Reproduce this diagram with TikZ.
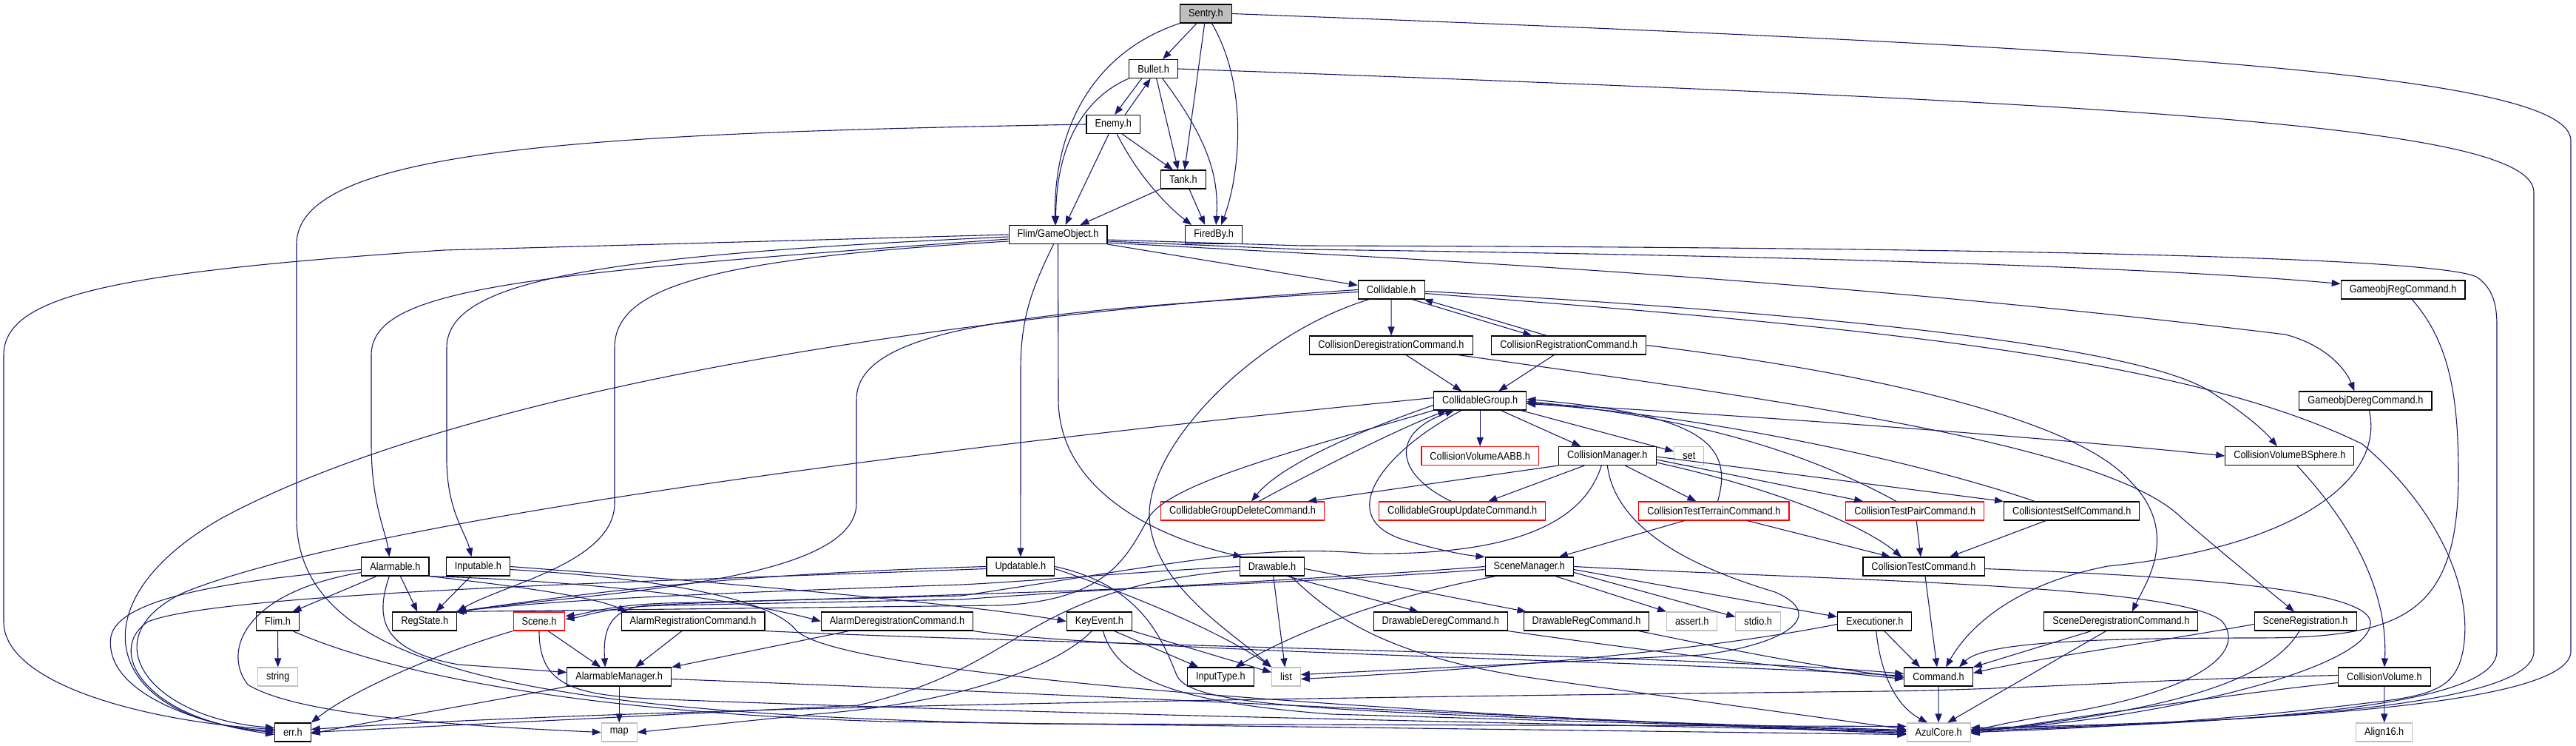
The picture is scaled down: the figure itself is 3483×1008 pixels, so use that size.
\documentclass[tikz,border=0pt]{standalone}
\usepackage{fontspec}
\newfontfamily\dotfont{Liberation Sans}[FakeStretch=0.88]
\usetikzlibrary{arrows.meta}
\definecolor{edgeblue}{RGB}{25,25,112}
\definecolor{sysgray}{RGB}{191,191,191}

\begin{document}
\begin{tikzpicture}[x=1pt, y=-1pt,
    hdr/.style={draw=black, fill=white, line width=1.1pt, minimum height=25pt,
      inner xsep=11.5pt, inner ysep=0pt, font={\dotfont\fontsize{14.5}{17}\selectfont}},
    root/.style={hdr, fill=sysgray},
    trunc/.style={hdr, draw=red},
    sys/.style={hdr, draw=sysgray},
    dep/.style={draw=edgeblue, line width=1.1pt, -{Triangle[length=12pt,width=9pt]}}]
  \useasboundingbox (0,0) rectangle (3483,1008);
  % Headers, row by row
  \node[root] (sentry) at (1630.5,18.5) {Sentry.h};
  \node[hdr] (bullet) at (1559.7,93) {Bullet.h};
  \node[hdr] (enemy) at (1505.2,168) {Enemy.h};
  \node[hdr] (tank) at (1599.9,242.5) {Tank.h};
  \node[hdr] (gameobj) at (1430.5,317) {Flim/GameObject.h};
  \node[hdr] (firedby) at (1641.2,317) {FiredBy.h};
  \node[hdr] (collidable) at (1881.2,391.5) {Collidable.h};
  \node[hdr] (gorcmd) at (3249.1,391.5) {GameobjRegCommand.h};
  \node[hdr] (colldereg) at (1881,466.5) {CollisionDeregistrationCommand.h};
  \node[hdr] (collreg) at (2121.3,466.5) {CollisionRegistrationCommand.h};
  \node[hdr] (cgroup) at (2001.2,541.5) {CollidableGroup.h};
  \node[hdr] (godcmd) at (3198.4,541.5) {GameobjDeregCommand.h};
  \node[trunc] (cvaabb) at (2001.2,616) {CollisionVolumeAABB.h};
  \node[hdr] (cmgr) at (2173.3,616) {CollisionManager.h};
  \node[sys] (seth) at (2283.8,616) {set};
  \node[hdr] (cvbsphere) at (3095.8,616) {CollisionVolumeBSphere.h};
  \node[trunc] (cgdelete) at (1680,690.5) {CollidableGroupDeleteCommand.h};
  \node[trunc] (cgupdate) at (1977.2,690.5) {CollidableGroupUpdateCommand.h};
  \node[trunc] (ctterrain) at (2317.4,690.5) {CollisionTestTerrainCommand.h};
  \node[trunc] (ctpair) at (2589.2,690.5) {CollisionTestPairCommand.h};
  \node[hdr] (ctself) at (2801.2,690.5) {CollisiontestSelfCommand.h};
  \node[hdr] (alarmable) at (534.4,765.5) {Alarmable.h};
  \node[hdr] (inputable) at (646.4,765.5) {Inputable.h};
  \node[hdr] (updatable) at (1379.9,765.5) {Updatable.h};
  \node[hdr] (drawable) at (1720,765.5) {Drawable.h};
  \node[hdr] (scenemgr) at (2067.8,765.5) {SceneManager.h};
  \node[hdr] (ctcmd) at (2601,765.5) {CollisionTestCommand.h};
  \node[hdr] (flim) at (375.6,839.5) {Flim.h};
  \node[hdr] (regstate) at (574.3,839.5) {RegState.h};
  \node[trunc] (scene) at (729,839.5) {Scene.h};
  \node[hdr] (alarmreg) at (937,839.5) {AlarmRegistrationCommand.h};
  \node[hdr] (alarmdereg) at (1213,839.5) {AlarmDeregistrationCommand.h};
  \node[hdr] (keyevent) at (1486.4,839.5) {KeyEvent.h};
  \node[hdr] (ddereg) at (1947.8,839.5) {DrawableDeregCommand.h};
  \node[hdr] (dreg) at (2145,839.5) {DrawableRegCommand.h};
  \node[sys] (asserth) at (2287.7,839.5) {assert.h};
  \node[sys] (stdioh) at (2377.2,839.5) {stdio.h};
  \node[hdr] (executioner) at (2534.7,839.5) {Executioner.h};
  \node[hdr] (scenedereg) at (2867.8,839.5) {SceneDeregistrationCommand.h};
  \node[hdr] (scenereg) at (3117.1,839.5) {SceneRegistration.h};
  \node[sys] (stringh) at (375.8,914.5) {string};
  \node[hdr] (alarmmgr) at (837.2,914.5) {AlarmableManager.h};
  \node[hdr] (inputtype) at (1650.4,914.5) {InputType.h};
  \node[sys] (listh) at (1739,914.5) {list};
  \node[hdr] (command) at (2621,914.5) {Command.h};
  \node[hdr] (cvolume) at (3223.9,914.5) {CollisionVolume.h};
  \node[hdr] (err) at (395.9,989.5) {err.h};
  \node[sys] (maph) at (837.2,989.5) {map};
  \node[sys] (azul) at (2621.1,989.5) {AzulCore.h};
  \node[sys] (align) at (3223.7,989.5) {Align16.h};

  % Sentry.h
  \draw[dep] (sentry) -- (bullet);
  \draw[dep] (sentry.south west) .. controls (1480,70) and (1425,170) .. ([xshift=-4pt]gameobj.north);
  \draw[dep] (sentry) -- (tank);
  \draw[dep] ([xshift=8pt]sentry.south) .. controls (1690,120) and (1675,240) .. ([xshift=10pt]firedby.north);
  \draw[dep] (sentry.east) .. controls (2900,65) and (3476,100) .. (3476,190) -- (3476,880) .. controls (3476,950) and (3100,975) .. ([yshift=6pt]azul.east);
  % Bullet.h and Enemy.h
  \draw[dep] ([xshift=-16pt]bullet.south) -- ([xshift=2pt]enemy.north);
  \draw[dep] ([xshift=16pt]enemy.north) -- ([xshift=-4pt]bullet.south);
  \draw[dep] (bullet.south west) .. controls (1470,130) and (1428,190) .. ([xshift=-3pt]gameobj.north);
  \draw[dep] ([xshift=4pt]bullet.south) -- ([xshift=-7pt]tank.north);
  \draw[dep] ([xshift=12pt]bullet.south) .. controls (1635,190) and (1648,240) .. ([xshift=3pt]firedby.north);
  \draw[dep] (bullet.east) .. controls (2900,140) and (3426,170) .. (3426,260) -- (3426,880) .. controls (3426,950) and (3100,975) .. ([yshift=4pt]azul.east);
  \draw[dep] ([xshift=12pt]enemy.south) -- ([xshift=-14pt]tank.north);
  \draw[dep] ([xshift=-6pt]enemy.south) -- ([xshift=10pt]gameobj.north);
  \draw[dep] ([xshift=5pt]enemy.south) .. controls (1540,240) and (1580,280) .. ([xshift=-30pt]firedby.north);
  \draw[dep] (enemy.west) .. controls (800,180) and (401,200) .. (401,330) -- (401,700) .. controls (401,900) and (700,965) .. (1400,978) -- ([yshift=8pt]azul.west);
  % Tank.h
  \draw[dep] (tank.south west) -- ([xshift=30pt]gameobj.north);
  \draw[dep] ([xshift=8pt]tank.south) -- ([xshift=-12pt]firedby.north);

  % Flim/GameObject.h
  \draw[dep] (gameobj.west) -- (600,338) .. controls (150,368) and (5,400) .. (5,480) -- (5,840) .. controls (5,925) and (200,975) .. ([yshift=4pt]err.west);
  \draw[dep] ([yshift=-3pt]gameobj.west) .. controls (800,345) and (604,380) .. (604,470) -- (604,620) .. controls (604,690) and (630,720) .. ([xshift=-9pt]inputable.north);
  \draw[dep] ([yshift=-6pt]gameobj.west) .. controls (700,370) and (502,390) .. (502,480) -- (502,600) .. controls (502,680) and (522,720) .. ([xshift=-8pt]alarmable.north);
  \draw[dep] ([yshift=-9pt]gameobj.west) .. controls (950,350) and (831,390) .. (831,470) -- (831,680) .. controls (831,760) and (680,790) .. (regstate.north east);
  \draw[dep] ([xshift=-6pt]gameobj.south) .. controls (1395,390) and (1380,430) .. (1380,500) -- (updatable.north);
  \draw[dep] (gameobj.south) -- (1431,540) .. controls (1431,650) and (1540,720) .. ([xshift=4pt]drawable.north west);
  \draw[dep] (gameobj.south east) -- ([yshift=6pt]collidable.west);
  \draw[dep] ([yshift=-7pt]gameobj.east) -- (1760,332) .. controls (2600,334) and (3300,345) .. (3350,375) .. controls (3370,390) and (3376,410) .. (3376,440) -- (3376,880) .. controls (3376,950) and (3100,975) .. ([yshift=2pt]azul.east);
  \draw[dep] ([yshift=-9pt]gameobj.east) -- (1760,337) .. controls (2400,345) and (2900,360) .. ([yshift=8pt]gorcmd.west);
  \draw[dep] ([yshift=-11pt]gameobj.east) -- (1760,342) .. controls (2500,380) and (2950,435) .. (3090,452) .. controls (3140,465) and (3170,495) .. ([xshift=-15pt]godcmd.north);

  % Collidable.h
  \draw[dep] (collidable) -- (colldereg);
  \draw[dep] ([xshift=28pt]collidable.south) -- ([xshift=-50pt]collreg.north);
  \draw[dep] ([xshift=-30pt]collreg.north) -- ([xshift=44pt]collidable.south);
  \draw[dep] (collidable.west) .. controls (1100,440) and (560,560) .. (300,700) .. controls (90,820) and (150,975) .. ([yshift=2pt]err.west);
  \draw[dep] ([yshift=-3pt]collidable.west) .. controls (1400,420) and (1158,440) .. (1158,540) -- (1158,680) .. controls (1158,790) and (800,800) .. (regstate.north east);
  \draw[dep] ([xshift=-30pt]collidable.south) .. controls (1700,450) and (1550,600) .. (1554,700) .. controls (1560,790) and (1660,850) .. (listh.north west);
  \draw[dep] ([yshift=-2pt]collidable.east) .. controls (2500,425) and (2900,470) .. (2990,530) .. controls (3030,555) and (3060,580) .. ([xshift=-17pt]cvbsphere.north);
  \draw[dep] ([yshift=-5pt]collidable.east) .. controls (2500,440) and (2950,480) .. (3194,600) .. controls (3300,690) and (3345,800) .. (3330,880) .. controls (3320,930) and (3290,940) .. (3200,950) .. controls (3000,975) and (2800,985) .. (azul.east);
  % Collision registration commands
  \draw[dep] ([xshift=20pt]colldereg.south) -- ([xshift=-25pt]cgroup.north);
  \draw[dep] ([xshift=90pt]colldereg.south) .. controls (2400,540) and (2850,600) .. (2950,700) .. controls (3020,760) and (3070,800) .. ([xshift=-15pt]scenereg.north);
  \draw[dep] ([xshift=-20pt]collreg.south) -- ([xshift=25pt]cgroup.north);
  \draw[dep] (collreg.east) .. controls (2500,500) and (2800,560) .. (2880,650) .. controls (2950,720) and (2900,790) .. ([xshift=15pt]scenedereg.north);

  % CollidableGroup.h
  \draw[dep] (cgroup) -- (cvaabb);
  \draw[dep] ([xshift=28pt]cgroup.south) -- ([xshift=-36pt]cmgr.north);
  \draw[dep] ([xshift=55pt]cgroup.south) -- ([yshift=6pt]seth.west);
  \draw[dep] ([yshift=-3pt]cgroup.east) .. controls (2500,570) and (2800,595) .. (cvbsphere.west);
  \draw[dep] ([yshift=4pt]cgroup.west) .. controls (1300,600) and (500,700) .. (250,800) .. controls (120,860) and (200,970) .. ([yshift=6pt]err.west);
  \draw[dep] ([yshift=-6pt]cgroup.west) .. controls (1830,585) and (1730,630) .. ([xshift=12pt]cgdelete.north);
  \draw[dep] ([xshift=22pt]cgdelete.north) .. controls (1780,635) and (1890,580) .. ([xshift=-45pt]cgroup.south);
  \draw[dep] (cgroup.south west) .. controls (1750,610) and (1570,655) .. (1550,705) .. controls (1520,760) and (1490,812) .. (1350,818) -- ([xshift=-3pt]regstate.north east);
  \draw[dep] ([xshift=-25pt]cgroup.south) .. controls (1870,610) and (1800,700) .. (1900,730) .. controls (1940,742) and (1980,750) .. (scenemgr.north west);
  \draw[dep] ([xshift=-15pt]cgupdate.north) .. controls (1885,640) and (1880,585) .. ([xshift=-35pt]cgroup.south);
  \draw[dep] ([xshift=5pt]ctterrain.north) .. controls (2345,600) and (2300,560) .. ([yshift=2pt]cgroup.east);
  \draw[dep] ([xshift=-25pt]ctpair.north) .. controls (2450,615) and (2300,565) .. ([yshift=-1pt]cgroup.east);
  \draw[dep] ([xshift=-50pt]ctself.north) .. controls (2600,625) and (2300,560) .. ([yshift=-4pt]cgroup.east);

  % CollisionManager.h
  \draw[dep] (cmgr.south west) -- ([xshift=88pt]cgdelete.north);
  \draw[dep] ([xshift=-31pt]cmgr.south) -- ([xshift=35pt]cgupdate.north);
  \draw[dep] ([xshift=24pt]cmgr.south) -- ([xshift=-24pt]ctterrain.north);
  \draw[dep] ([yshift=-5pt]cmgr.east) -- ([xshift=-70pt]ctpair.north);
  \draw[dep] ([yshift=-1pt]cmgr.east) -- (ctself.north west);
  \draw[dep] ([yshift=-9pt]cmgr.east) .. controls (2400,660) and (2520,710) .. ([xshift=-30pt]ctcmd.north);
  \draw[dep] (cmgr.south) .. controls (2185,720) and (2300,770) .. (2400,800) .. controls (2470,830) and (2420,870) .. (2300,885) -- ([yshift=3pt]listh.east);
  \draw[dep] ([xshift=-8pt]cmgr.south) .. controls (2140,710) and (2040,750) .. (1850,748) .. controls (1700,735) and (1600,760) .. (1300,805) -- (900,815) .. controls (820,818) and (790,830) .. ([yshift=7pt]scene.east);

  % Collision test commands
  \draw[dep] ([xshift=-40pt]ctterrain.south) -- ([xshift=40pt]scenemgr.north);
  \draw[dep] ([xshift=45pt]ctterrain.south) -- ([xshift=-45pt]ctcmd.north);
  \draw[dep] ([xshift=2pt]ctpair.south) -- ([xshift=-4pt]ctcmd.north);
  \draw[dep] ([xshift=-35pt]ctself.south) -- ([xshift=35pt]ctcmd.north);
  \draw[dep] ([xshift=2pt]ctcmd.south) -- ([xshift=-2pt]command.north);
  \draw[dep] ([yshift=-3pt]ctcmd.east) .. controls (3000,780) and (3200,800) .. (3205,840) .. controls (3210,905) and (2900,975) .. ([yshift=3pt]azul.east);

  % SceneManager.h
  \draw[dep] (scenemgr.west) .. controls (1800,782) and (1500,795) .. (1300,810) -- (900,818) .. controls (820,820) and (790,833) .. ([yshift=3pt]scene.east);
  \draw[dep] ([yshift=-4pt]scenemgr.west) .. controls (1600,800) and (1000,810) .. (880,818) .. controls (825,820) and (815,850) .. ([xshift=-19pt]alarmmgr.north);
  \draw[dep] ([xshift=-45pt]scenemgr.south) .. controls (1880,805) and (1760,850) .. ([xshift=20pt]inputtype.north);
  \draw[dep] ([xshift=35pt]scenemgr.south) -- (asserth.north west);
  \draw[dep] ([yshift=-8pt]scenemgr.east) -- ([yshift=6pt]stdioh.west);
  \draw[dep] ([yshift=-4pt]scenemgr.east) -- ([yshift=6pt]executioner.west);
  \draw[dep] (scenemgr.east) .. controls (2500,785) and (2950,790) .. (3005,840) .. controls (3040,885) and (2960,935) .. (2800,962) .. controls (2700,978) and (2680,985) .. ([yshift=2pt]azul.east);

  % Updatable.h and Drawable.h
  \draw[dep] (updatable.west) .. controls (1000,775) and (800,800) .. (regstate.north east);
  \draw[dep] ([yshift=-3pt]updatable.west) .. controls (900,785) and (300,800) .. (200,840) .. controls (140,880) and (200,975) .. (err.west);
  \draw[dep] ([yshift=-3pt]updatable.east) .. controls (1550,810) and (1660,860) .. (listh.north west);
  \draw[dep] (updatable.east) .. controls (1540,790) and (1570,860) .. (1590,910) .. controls (1605,958) and (1800,962) .. ([yshift=3pt]azul.west);
  \draw[dep] (drawable.west) .. controls (1500,775) and (1400,785) .. (1300,790) .. controls (1000,800) and (750,810) .. (regstate.north east);
  \draw[dep] ([yshift=-5pt]drawable.west) .. controls (1380,795) and (1390,900) .. (1160,953) -- (err.east);
  \draw[dep] ([xshift=20pt]drawable.south) -- ([xshift=-30pt]ddereg.north);
  \draw[dep] ([yshift=-3pt]drawable.east) -- ([xshift=4pt]dreg.north west);
  \draw[dep] (drawable) -- (listh);
  \draw[dep] ([xshift=25pt]drawable.south) .. controls (1800,830) and (1870,890) .. (2100,920) -- ([yshift=4pt]azul.west);

  % Inputable.h and KeyEvent.h
  \draw[dep] ([xshift=-10pt]inputable.south) -- ([xshift=15pt]regstate.north);
  \draw[dep] (inputable.east) .. controls (950,785) and (1300,815) .. (keyevent.west);
  \draw[dep] ([yshift=-4pt]inputable.east) .. controls (950,785) and (1050,820) .. (1075,850) .. controls (1120,910) and (1800,960) .. ([yshift=-2pt]azul.west);
  \draw[dep] ([xshift=20pt]keyevent.south) -- ([xshift=-30pt]inputtype.north);
  \draw[dep] (keyevent.south east) -- ([yshift=6pt]listh.west);
  \draw[dep] ([xshift=-10pt]keyevent.south) .. controls (1430,900) and (1300,950) .. (1100,965) -- (maph.east);
  \draw[dep] ([xshift=5pt]keyevent.south) .. controls (1510,920) and (1600,950) .. (1800,965) -- ([yshift=2pt]azul.west);

  % Alarmable.h and Flim.h
  \draw[dep] ([xshift=-25pt]alarmable.south) -- ([xshift=20pt]flim.north);
  \draw[dep] ([xshift=7pt]alarmable.south) -- ([xshift=-10pt]regstate.north);
  \draw[dep] ([xshift=-8pt]alarmable.south) .. controls (505,840) and (520,880) .. (620,898) -- ([yshift=6pt]alarmmgr.west);
  \draw[dep] (alarmable.south east) .. controls (680,790) and (800,805) .. ([xshift=8pt]alarmreg.north west);
  \draw[dep] ([xshift=-3pt]alarmable.south east) .. controls (800,785) and (1000,810) .. (alarmdereg.west);
  \draw[dep] ([yshift=-4pt]alarmable.west) .. controls (300,785) and (160,810) .. (150,860) .. controls (140,930) and (250,975) .. ([yshift=-3pt]err.west);
  \draw[dep] ([yshift=-8pt]alarmable.west) .. controls (330,800) and (300,880) .. (335,925) .. controls (400,965) and (600,980) .. (maph.west);
  \draw[dep] (flim) -- (stringh);
  \draw[dep] ([xshift=20pt]flim.south) .. controls (480,890) and (700,960) .. (1200,975) -- ([yshift=-3pt]azul.west);

  % Alarm commands, AlarmableManager.h, Scene.h
  \draw[dep] ([xshift=-15pt]alarmreg.south) -- ([xshift=22pt]alarmmgr.north);
  \draw[dep] (alarmreg.south east) .. controls (1400,870) and (2300,885) .. ([yshift=4pt]command.west);
  \draw[dep] ([xshift=-65pt]alarmdereg.south) -- (alarmmgr.north east);
  \draw[dep] (alarmdereg.south east) .. controls (1500,880) and (2300,895) .. ([yshift=1pt]command.west);
  \draw[dep] (alarmmgr) -- (maph);
  \draw[dep] (alarmmgr.south west) .. controls (680,945) and (500,975) .. ([yshift=-2pt]err.east);
  \draw[dep] ([yshift=-3pt]alarmmgr.east) .. controls (1500,940) and (2200,975) .. ([yshift=-1pt]azul.west);
  \draw[dep] ([xshift=12pt]scene.south) -- ([xshift=-25pt]alarmmgr.north);
  \draw[dep] (scene.south west) .. controls (600,880) and (480,930) .. (err.north east);
  \draw[dep] (scene.south) .. controls (729,930) and (780,940) .. (900,945) .. controls (1400,965) and (2200,980) .. ([yshift=1pt]azul.west);

  % Command headers
  \draw[dep] (ddereg.south east) .. controls (2300,890) and (2450,905) .. ([yshift=-3pt]command.west);
  \draw[dep] ([xshift=-15pt]dreg.south east) .. controls (2350,880) and (2450,900) .. ([yshift=-1pt]command.west);
  \draw[dep] ([xshift=13pt]executioner.south) -- ([xshift=-25pt]command.north);
  \draw[dep] ([xshift=2pt]executioner.south) .. controls (2545,930) and (2575,960) .. ([xshift=-15pt]azul.north);
  \draw[dep] ([yshift=-4pt]executioner.west) .. controls (2300,880) and (2000,905) .. ([yshift=-3pt]listh.east);
  \draw[dep] ([xshift=-40pt]scenedereg.south) -- (command.north east);
  \draw[dep] ([xshift=-20pt]scenedereg.south) -- ([xshift=12pt]azul.north);
  \draw[dep] ([yshift=-4pt]scenereg.west) .. controls (2900,870) and (2750,890) .. ([yshift=5pt]command.east);
  \draw[dep] ([xshift=-8pt]scenereg.south) .. controls (3080,900) and (3000,955) .. ([yshift=1pt]azul.east);
  \draw[dep] ([xshift=12pt]gorcmd.south) .. controls (3310,460) and (3324,530) .. (3324,640) .. controls (3324,830) and (3250,862) .. (3050,862) .. controls (2800,862) and (2680,870) .. ([xshift=28pt]command.north);
  \draw[dep] ([xshift=5pt]godcmd.south) .. controls (3225,650) and (3100,740) .. (2850,765) .. controls (2720,790) and (2660,850) .. ([xshift=10pt]command.north);
  \draw[dep] (command) -- (azul);

  % Collision volumes
  \draw[dep] ([xshift=10pt]cvbsphere.south) .. controls (3200,730) and (3228,820) .. (cvolume.north);
  \draw[dep] (cvolume) -- (align);
  \draw[dep] ([yshift=-8pt]cvolume.west) .. controls (3000,940) and (2800,970) .. ([yshift=-2pt]azul.east);
  \draw[dep] ([yshift=2pt]cvolume.west) .. controls (2900,918) and (2750,931) .. (2550,934) .. controls (1500,945) and (800,960) .. ([yshift=4pt]err.east);
\end{tikzpicture}
\end{document}
